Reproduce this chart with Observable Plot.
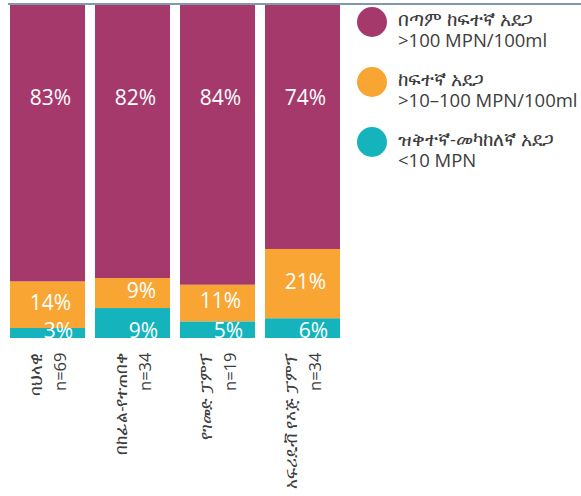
<!DOCTYPE html>
<html>
<head>
<meta charset="utf-8">
<script src="https://cdn.jsdelivr.net/npm/d3@7"></script>
<script src="https://cdn.jsdelivr.net/npm/@observablehq/plot@0.6"></script>
<style>
  html, body { margin: 0; padding: 0; background: #fff; }
  body { font-family: "Open Sans", "Noto Sans", "DejaVu Sans", sans-serif; }
  #wrap { position: relative; width: 581px; height: 496px; overflow: hidden; }
  #topline { position: absolute; left: 8px; right: 0; top: 3px; height: 1.5px; background: #7f9aab; }
  #legend { position: absolute; left: 355px; top: 7px; width: 226px; }
  .item { display: flex; align-items: flex-start; height: 60px; }
  .dot { width: 30px; height: 30px; border-radius: 50%; flex: none; margin-left: 2px; }
  .lbl { margin-left: 11px; margin-top: 1px; font-size: 18.5px; line-height: 21px; color: #3d3d3d; white-space: nowrap; }
</style>
</head>
<body>
<div id="wrap">
  <div id="chart"></div>
  <div id="topline"></div>
  <div id="legend"></div>
</div>
<script>
// Categories (water source types) and sample sizes
const categories = ["ባህላዊ", "በከፊል-የተጠበቀ", "የገመድ ፓምፕ", "አፍሪዴቭ የእጅ ፓምፕ"];
const sampleSizes = [69, 34, 19, 34];

// Risk levels (bottom to top in stack)
const riskKeys = ["low", "high", "veryHigh"];
const riskNames = ["ዝቅተኛ-መካከለኛ አደጋ", "ከፍተኛ አደጋ", "በጣም ከፍተኛ አደጋ"];
const riskRanges = ["<10 MPN", ">10–100 MPN/100ml", ">100 MPN/100ml"];
const riskColors = ["#15b4bd", "#f9a533", "#a6396b"];

// Percent values per category
const veryHigh = [83, 82, 84, 74];
const high = [14, 9, 11, 21];
const lowMed = [3, 9, 5, 6];

const seriesValues = { low: lowMed, high: high, veryHigh: veryHigh };

const rows = [];
categories.forEach((c, i) => {
  riskKeys.forEach(k => rows.push({ cat: c, risk: k, value: seriesValues[k][i] }));
});

const totals = categories.map((c, i) => lowMed[i] + high[i] + veryHigh[i]);
const topRows = categories.map((c, i) => ({ cat: c, value: veryHigh[i] }));
const midRows = categories.map((c, i) => ({ cat: c, value: high[i], y: (lowMed[i] + high[i] / 2) / totals[i] }));
const lowRows = categories.map((c, i) => ({ cat: c, value: lowMed[i] }));
const nLabels = categories.map((c, i) => ({ cat: c, label: "n=" + sampleSizes[i] }));

const textFont = "\"Open Sans\", \"Noto Sans\", \"DejaVu Sans\", sans-serif";

const chart = Plot.plot({
  width: 581,
  height: 496,
  marginLeft: 9,
  marginRight: 239,
  marginTop: 5,
  marginBottom: 158,
  style: { fontFamily: textFont, background: "transparent", overflow: "visible" },
  x: { domain: categories, paddingInner: 0.115, paddingOuter: 0, axis: null },
  y: { domain: [0, 1], axis: null },
  color: { domain: riskKeys, range: riskColors },
  marks: [
    Plot.barY(rows, Plot.stackY({ x: "cat", y: "value", z: "risk", fill: "risk", order: riskKeys, offset: "normalize" })),
    Plot.text(topRows, { x: "cat", text: d => d.value + "%", frameAnchor: "top", dy: 85, dx: 23, textAnchor: "end", fill: "white", fontSize: 21 }),
    Plot.text(midRows, { x: "cat", y: "y", text: d => d.value + "%", dx: 23, dy: -2, textAnchor: "end", fill: "white", fontSize: 21 }),
    Plot.text(lowRows, { x: "cat", text: d => d.value + "%", frameAnchor: "bottom", lineAnchor: "bottom", dy: -1, dx: 25, textAnchor: "end", fill: "white", fontSize: 21 }),
    Plot.text(categories, { x: d => d, text: d => d, frameAnchor: "bottom", rotate: -90, textAnchor: "end", dy: 14, dx: -6, fontSize: 16.5, fill: "#3d3d3d" }),
    Plot.text(nLabels, { x: "cat", text: "label", frameAnchor: "bottom", rotate: -90, textAnchor: "end", dy: 14, dx: 18, fontSize: 16.5, fill: "#3d3d3d" })
  ]
});
document.getElementById("chart").appendChild(chart);

// Legend (top-most series first)
const legend = d3.select("#legend");
[2, 1, 0].forEach(i => {
  const item = legend.append("div").attr("class", "item");
  item.append("div").attr("class", "dot").style("background", riskColors[i]);
  item.append("div").attr("class", "lbl").html(riskNames[i] + "<br>" + riskRanges[i].replace("<", "&lt;").replace(">", "&gt;"));
});
</script>
</body>
</html>
